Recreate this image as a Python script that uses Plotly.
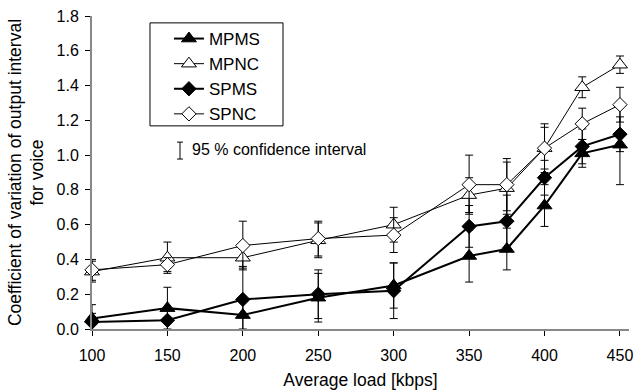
import plotly.graph_objects as go

load = [100, 150, 200, 250, 300, 350, 375, 400, 425, 450]

mpms = [0.06, 0.12, 0.08, 0.18, 0.25, 0.42, 0.46, 0.71, 1.01, 1.06]
mpnc = [0.33, 0.41, 0.41, 0.51, 0.60, 0.77, 0.81, 1.04, 1.39, 1.52]
spms = [0.04, 0.05, 0.17, 0.20, 0.22, 0.59, 0.62, 0.87, 1.05, 1.12]
spnc = [0.34, 0.37, 0.48, 0.52, 0.54, 0.83, 0.83, 1.04, 1.18, 1.29]

mpms_err = [0.08, 0.12, 0.08, 0.14, 0.13, 0.15, 0.12, 0.12, 0.08, 0.23]
mpnc_err = [0.06, 0.09, 0.06, 0.10, 0.10, 0.10, 0.15, 0.12, 0.06, 0.05]
spms_err = [0.05, 0.06, 0.19, 0.14, 0.16, 0.12, 0.15, 0.10, 0.10, 0.10]
spnc_err = [0.06, 0.04, 0.14, 0.10, 0.10, 0.17, 0.15, 0.14, 0.09, 0.10]

x_ticks = [100, 150, 200, 250, 300, 350, 400, 450]
y_ticks = [0.0, 0.2, 0.4, 0.6, 0.8, 1.0, 1.2, 1.4, 1.6, 1.8]

FONT = "Liberation Sans, Arial, sans-serif"

series = [
    ("MPMS", mpms, mpms_err, "triangle-up", 13, "black", 2),
    ("MPNC", mpnc, mpnc_err, "triangle-up", 13, "white", 1),
    ("SPMS", spms, spms_err, "diamond", 11, "black", 2),
    ("SPNC", spnc, spnc_err, "diamond", 11, "white", 1),
]

fig = go.Figure()
for name, vals, err, sym, msize, fill, lw in series:
    fig.add_trace(go.Scatter(
        x=load, y=vals, name=name, mode="lines+markers",
        legendgroup=name,
        line=dict(color="black", width=lw),
        marker=dict(symbol=sym, size=msize, color=fill,
                    line=dict(color="black", width=1)),
        error_y=dict(type="data", array=err, visible=True,
                     color="black", thickness=1, width=4),
        cliponaxis=False,
    ))

fig.update_layout(
    width=640, height=392,
    margin=dict(l=92, r=11, t=16, b=63),
    paper_bgcolor="white", plot_bgcolor="white",
    font=dict(family=FONT, size=16, color="black"),
    showlegend=True,
    legend=dict(
        x=0.1433, y=0.984, xanchor="left", yanchor="top",
        borderwidth=0, bgcolor="rgba(0,0,0,0)",
        font=dict(family=FONT, size=17),
        tracegroupgap=0,
    ),
    xaxis=dict(
        range=[100, 456], tickvals=x_ticks,
        showgrid=False, zeroline=False, automargin=False,
        showline=True, linecolor="#888888", linewidth=2,
        ticks="outside", tickcolor="black", ticklen=5,
        ticklabelstandoff=6,
        title=dict(text="Average load [kbps]", font=dict(size=17.5), standoff=11),
        tickfont=dict(size=16),
    ),
    yaxis=dict(
        range=[0, 1.8], tickvals=y_ticks, tickformat=".1f",
        showgrid=False, zeroline=False, automargin=False,
        showline=True, linecolor="#888888", linewidth=2,
        ticks="outside", tickcolor="black", ticklen=5,
        ticklabelstandoff=3,
        title=dict(text="Coefficient of variation of output interval<br>for voice",
                   font=dict(size=17.5), standoff=8),
        tickfont=dict(size=16),
    ),
)

# Legend frame
fig.add_shape(type="rect", xref="paper", yref="paper",
              x0=0.108, x1=0.3557, y0=0.649, y1=0.978,
              line=dict(color="black", width=1), fillcolor="rgba(0,0,0,0)")

# Confidence interval key
fig.add_shape(type="line", xref="paper", yref="paper",
              x0=0.1639, x1=0.1639, y0=0.597, y1=0.543,
              line=dict(color="black", width=1))
for yy in (0.597, 0.543):
    fig.add_shape(type="line", xref="paper", yref="paper",
                  x0=0.1583, x1=0.1695, y0=yy, y1=yy,
                  line=dict(color="black", width=1))
fig.add_annotation(text="95 % confidence interval", xref="paper", yref="paper",
                   x=0.1825, y=0.572, xanchor="left", yanchor="middle",
                   showarrow=False, font=dict(family=FONT, size=16))

fig.write_html("out.html")
